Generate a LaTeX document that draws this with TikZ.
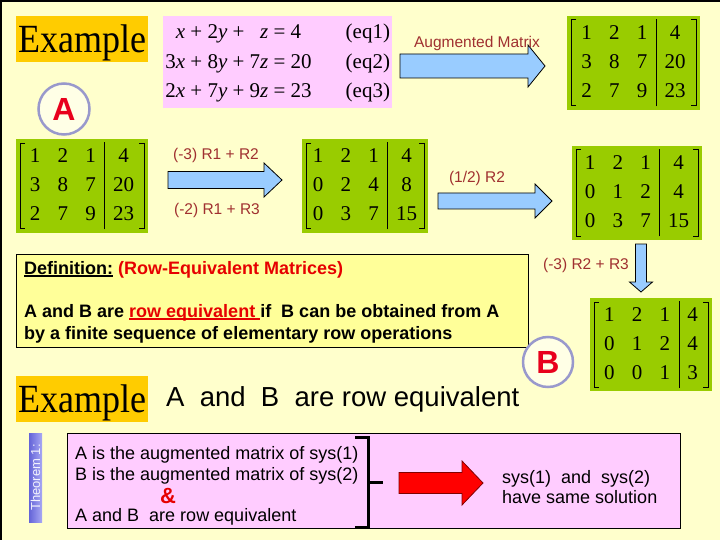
\documentclass[tikz,border=0pt]{standalone}
\usepackage{fontspec}
\setmainfont{Liberation Sans}
\newfontfamily\tnr{Liberation Serif}
\usepackage{graphicx}
\usepackage{xcolor}
\usepackage{tikz}
\usetikzlibrary{positioning,calc}

\definecolor{bgyellow}{HTML}{FFFFCC}
\definecolor{exgold}{HTML}{FFCC00}
\definecolor{eqpink}{HTML}{FFCCFF}
\definecolor{matgreen}{HTML}{99CC00}
\definecolor{arrblue}{HTML}{99CCFF}
\definecolor{opred}{HTML}{A03030}
\definecolor{defyellow}{HTML}{FFFF99}
\definecolor{defred}{HTML}{E60000}
\definecolor{circline}{HTML}{9999CC}
\definecolor{letred}{HTML}{E8001C}
\definecolor{tabdark}{HTML}{6464D8}
\definecolor{tablight}{HTML}{A8A8F4}

\newcommand{\mv}[1]{\textit{#1}}
\newcommand{\augmat}[1]{{\tnr\fontsize{21}{29}\selectfont\setlength{\tabcolsep}{8.6pt}%
  \begin{tabular}{@{}ccc|c@{}}#1\end{tabular}}}
\newsavebox{\ulbox}
\newcommand{\uln}[1]{\sbox{\ulbox}{#1}\rlap{\rule[-2.6pt]{\wd\ulbox}{1.3pt}}\usebox{\ulbox}}

\begin{document}
\begin{tikzpicture}[x=1pt, y=-1pt,
  every node/.style={inner sep=0pt},
  exbox/.style={fill=exgold, anchor=north west, minimum width=132, minimum height=46,
    text height=36, text depth=10, font=\tnr\fontsize{40}{40}\selectfont},
  mat/.style={fill=matgreen, minimum width=132, minimum height=93,
    path picture={
      \draw[line width=1pt] ([xshift=9pt,yshift=-4pt]path picture bounding box.north west)
        -| ([xshift=4pt,yshift=4pt]path picture bounding box.south west) -- ++(5pt,0pt);
      \draw[line width=1pt] ([xshift=-9pt,yshift=-4pt]path picture bounding box.north east)
        -| ([xshift=-4pt,yshift=4pt]path picture bounding box.south east) -- ++(-5pt,0pt);
    }},
  circ/.style={circle, draw=circline, line width=2.5, fill=white!50!bgyellow, minimum size=51,
    text=letred, font=\bfseries\fontsize{32}{32}\selectfont},
  barrow/.style={fill=arrblue, draw=black, line width=0.8},
  oplab/.style={text=opred, font=\fontsize{15.5}{18}\selectfont},
  deftxt/.style={anchor=base west, font=\bfseries\fontsize{18}{22}\selectfont},
  thmtxt/.style={anchor=base west, font=\fontsize{18}{21}\selectfont}]

% background and frame
\fill[bgyellow] (0,0) rectangle (720,540);
\useasboundingbox (0,0) rectangle (720,540);
\draw[line width=4] (0,540) -- (0,0) -- (720,0);

% the system and its augmented matrix
\node[exbox] (ex1) at (16,16) {\scalebox{0.9}[1]{Example}};
\node[fill=eqpink, anchor=north west, minimum width=229, minimum height=92] (eqs) at (163,16)
  {\tnr\fontsize{21}{29.5}\selectfont
   \begin{tabular}{@{}r@{\ +\ }r@{\ +\ }r@{\ =\ }l@{\hspace{34pt}}r@{}}
   \mv{x} & 2\mv{y} & \mv{z} & 4 & (eq1)\\
   3\mv{x} & 8\mv{y} & 7\mv{z} & 20 & (eq2)\\
   2\mv{x} & 7\mv{y} & 9\mv{z} & 23 & (eq3)
   \end{tabular}};
\node[mat, minimum width=133, minimum height=94] (mA) at (633.5,63)
  {\augmat{1&2&1&4\\3&8&7&20\\2&7&9&23}};
\draw[barrow] (400,54) -- (528,54) -- (528,45) -- (545,66) -- (528,87) -- (528,78) -- (400,78) -- cycle;
\node[oplab] (augl) at (477,43) {Augmented Matrix};
\node[circ] (cA) at (64,109) {A};

% row operations
\node[mat] (m1) at (82,186) {\augmat{1&2&1&4\\3&8&7&20\\2&7&9&23}};
\draw[barrow] (168,171.5) -- (264,171.5) -- (264,163) -- (282,180) -- (264,197) -- (264,188.5) -- (168,188.5) -- cycle;
\node[oplab] (op1) at (216,155) {(-3) R1 + R2};
\node[oplab] (op2) at (217,210) {(-2) R1 + R3};

\node[mat, minimum width=126] (m2) at (365,186) {\augmat{1&2&1&4\\0&2&4&8\\0&3&7&15}};
\draw[barrow] (438,193) -- (535,193) -- (535,184) -- (552,201) -- (535,218) -- (535,209) -- (438,209) -- cycle;
\node[oplab] (op3) at (477,178) {(1/2) R2};

\node[mat, minimum width=130, minimum height=94] (m3) at (637,193) {\augmat{1&2&1&4\\0&1&2&4\\0&3&7&15}};
\draw[barrow] (635.5,244) -- (646.5,244) -- (646.5,282) -- (652.5,282) -- (641,292) -- (629.5,282) -- (635.5,282) -- cycle;
\node[oplab] (op4) at (586,265) {(-3) R2 + R3};

% definition
\node[fill=defyellow, draw=black, line width=0.8, anchor=north west, minimum width=512, minimum height=93] (def) at (16,254) {};
\node[deftxt] (d1) at (24,274) {\uln{Definition:} \textcolor{defred}{(Row-Equivalent Matrices)}};
\node[deftxt] (d2) at (24,317) {A and B are \textcolor{defred}{\uln{row equivalent\ }}if\ \ B can be obtained from A};
\node[deftxt] (d3) at (24,339) {by a finite sequence of elementary row operations};

\node[mat, minimum width=122] (mB) at (651,344.5) {\augmat{1&2&1&4\\0&1&2&4\\0&0&1&3}};
\node[circ, minimum size=50] (cB) at (548,362) {B};

% theorem
\node[exbox] (ex2) at (16,376) {\scalebox{0.9}[1]{Example}};
\node[anchor=base west, font=\fontsize{27.5}{30}\selectfont] (rowtxt) at (166,406) {A\ \ and\ \ B\ \ are row equivalent};

\shade[left color=tabdark, right color=tablight] (29,433) rectangle (42,522);
\node[rotate=90, text=white!85!tablight, font=\fontsize{13}{13}\selectfont] (thm) at (35.5,477.5) {Theorem 1:};
\node[fill=eqpink, draw=black, line width=0.8, anchor=north west, minimum width=613, minimum height=95] (tbox) at (67,433) {};
\node[thmtxt] (t1) at (75,459) {A is the augmented matrix of sys(1)};
\node[thmtxt] (t2) at (75,480) {B is the augmented matrix of sys(2)};
\node[text=defred, font=\bfseries\fontsize{22}{22}\selectfont] (amp) at (168,496) {\&};
\node[thmtxt] (t3) at (75,521) {A and B\ \ are row equivalent};
\draw[line width=3] (355,437) -- (368,437) -- (368,527) -- (355,527);
\draw[line width=3] (368,482) -- (383,482);
\draw[fill=red, draw=red!50!black, line width=0.8] (399,472.5) -- (462,472.5) -- (462,461) -- (483,483) -- (462,505) -- (462,493.5) -- (399,493.5) -- cycle;
\node[thmtxt] (s1) at (502,483) {sys(1)\ \ and\ \ sys(2)};
\node[thmtxt] (s2) at (502,503) {have same solution};
\end{tikzpicture}
\end{document}
